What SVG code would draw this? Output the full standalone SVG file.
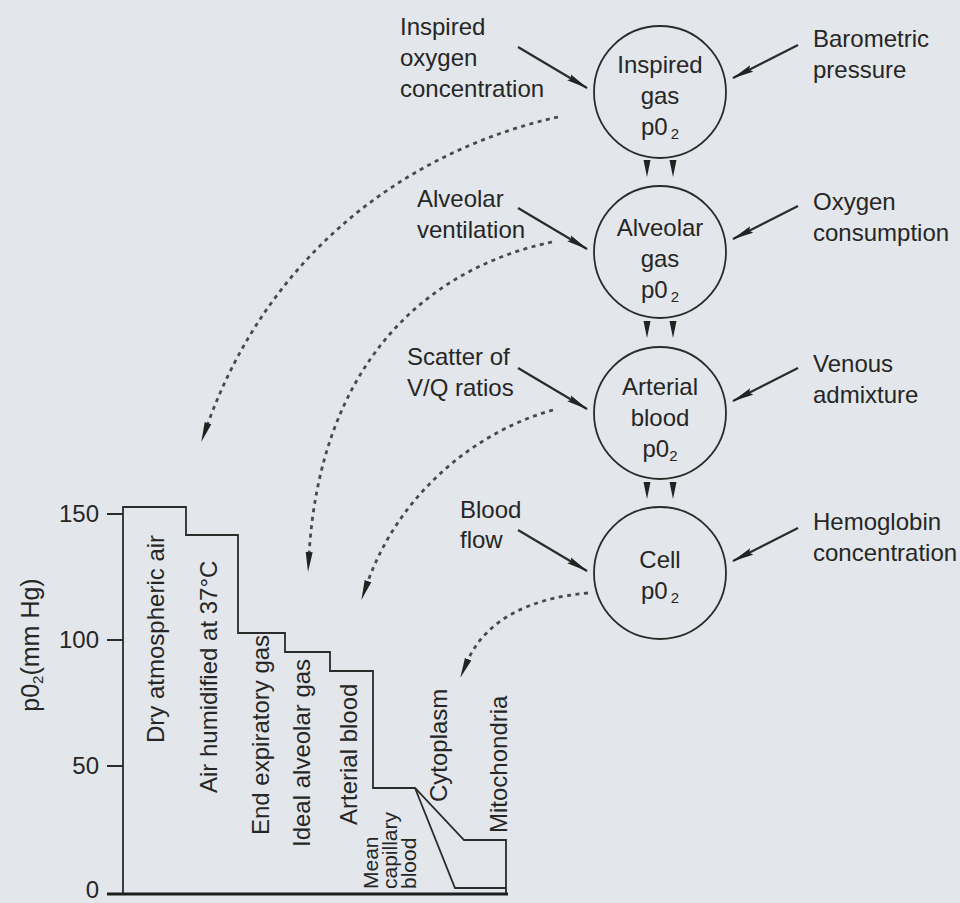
<svg xmlns="http://www.w3.org/2000/svg" width="960" height="903" viewBox="0 0 960 903">
<style>
.t{font-family:"Liberation Sans",Arial,Helvetica,sans-serif;font-size:24px;fill:#262626}
.s{font-size:21px}
.sub{font-size:15px}
.c{fill:none;stroke:#2b2b2b;stroke-width:1.8}
.a{fill:none;stroke:#2b2b2b;stroke-width:2.2;marker-end:url(#ah)}
.d{fill:none;stroke:#4a4a4a;stroke-width:2.8;stroke-dasharray:4 4.5;marker-end:url(#dh)}
.g{fill:none;stroke:#2b2b2b;stroke-width:1.8}
.tri{fill:#222}
</style>
<defs>
<marker id="ah" viewBox="0 0 22 8" refX="21" refY="4" markerWidth="22" markerHeight="8" markerUnits="userSpaceOnUse" orient="auto">
<path d="M0,0.5 L22,4 L0,7.5 L3,4 Z" fill="#222"/>
</marker>
<marker id="dh" viewBox="0 0 20 8" refX="3" refY="4" markerWidth="20" markerHeight="8" markerUnits="userSpaceOnUse" orient="auto">
<path d="M0,0.5 L20,4 L0,7.5 Z" fill="#222"/>
</marker>
</defs>
<rect x="0" y="0" width="960" height="903" fill="#e3e6ea"/>

<g id="node-inspired-gas">
<circle class="c" cx="660" cy="92" r="66"/>
<text class="t" x="660" y="73" text-anchor="middle">Inspired</text>
<text class="t" x="660" y="104" text-anchor="middle">gas</text>
<text class="t" x="660" y="135" text-anchor="middle">p0<tspan class="sub" dx="3" dy="4">2</tspan></text>
</g>
<g id="node-alveolar-gas">
<circle class="c" cx="660" cy="252" r="66"/>
<text class="t" x="660" y="236" text-anchor="middle">Alveolar</text>
<text class="t" x="660" y="267" text-anchor="middle">gas</text>
<text class="t" x="660" y="298" text-anchor="middle">p0<tspan class="sub" dx="3" dy="4">2</tspan></text>
</g>
<g id="node-arterial-blood">
<circle class="c" cx="660" cy="413" r="66"/>
<text class="t" x="660" y="395" text-anchor="middle">Arterial</text>
<text class="t" x="660" y="426" text-anchor="middle">blood</text>
<text class="t" x="660" y="457" text-anchor="middle">p0<tspan class="sub" dy="4">2</tspan></text>
</g>
<g id="node-cell">
<circle class="c" cx="660" cy="573" r="66"/>
<text class="t" x="660" y="568" text-anchor="middle">Cell</text>
<text class="t" x="660" y="599" text-anchor="middle">p0<tspan class="sub" dx="3" dy="4">2</tspan></text>
</g>

<g id="label-inspired-oxygen">
<text class="t" x="400" y="35">Inspired</text>
<text class="t" x="400" y="66">oxygen</text>
<text class="t" x="400" y="97">concentration</text>
</g>
<g id="label-alveolar-ventilation">
<text class="t" x="417" y="207">Alveolar</text>
<text class="t" x="417" y="238">ventilation</text>
</g>
<g id="label-scatter">
<text class="t" x="407" y="365">Scatter of</text>
<text class="t" x="407" y="396">V/Q ratios</text>
</g>
<g id="label-blood-flow">
<text class="t" x="460" y="518">Blood</text>
<text class="t" x="460" y="548">flow</text>
</g>
<g id="label-barometric">
<text class="t" x="813" y="47">Barometric</text>
<text class="t" x="813" y="78">pressure</text>
</g>
<g id="label-oxygen-consumption">
<text class="t" x="813" y="210">Oxygen</text>
<text class="t" x="813" y="241">consumption</text>
</g>
<g id="label-venous">
<text class="t" x="813" y="372">Venous</text>
<text class="t" x="813" y="403">admixture</text>
</g>
<g id="label-hemoglobin">
<text class="t" x="813" y="530">Hemoglobin</text>
<text class="t" x="813" y="561">concentration</text>
</g>

<g id="connectors">
<path class="a" d="M518,47 L587,88"/>
<path class="a" d="M518,208 L587,249"/>
<path class="a" d="M518,368 L587,409"/>
<path class="a" d="M518,530 L587,571"/>
<path class="a" d="M798,45 L733,78"/>
<path class="a" d="M798,206 L733,239"/>
<path class="a" d="M798,368 L733,401"/>
<path class="a" d="M798,528 L733,561"/>
<polygon class="tri" points="643.5,160 650.5,160 647,177"/>
<polygon class="tri" points="669.5,160 676.5,160 673,177"/>
<polygon class="tri" points="643.5,321 650.5,321 647,338"/>
<polygon class="tri" points="669.5,321 676.5,321 673,338"/>
<polygon class="tri" points="643.5,482 650.5,482 647,499"/>
<polygon class="tri" points="669.5,482 676.5,482 673,499"/>
<path class="d" d="M558,117 C410,150 270,250 207,426"/>
<path class="d" d="M552,242 C420,270 320,370 309,555"/>
<path class="d" d="M553,410 C480,430 400,490 367,584"/>
<path class="d" d="M588,593 C530,598 485,620 467,662"/>
</g>

<g id="chart">
<path class="g" d="M123,894 L123,507 L186,507 L186,535 L238,535 L238,633 L285,633 L285,652 L330,652 L330,671 L373,671 L373,788 L415,788 L464,840 L506,840 L506,894"/>
<path class="g" d="M415,788 L455,888 L506,888"/>
<path class="g" d="M107,514 L123,514 M107,640 L123,640 M107,766 L123,766"/>
<path fill="none" stroke="#1e1e1e" stroke-width="3" d="M107,894 L508,894"/>
<text class="t" x="99" y="522" text-anchor="end">150</text>
<text class="t" x="99" y="648" text-anchor="end">100</text>
<text class="t" x="99" y="774" text-anchor="end">50</text>
<text class="t" x="99" y="898" text-anchor="end">0</text>
<text class="t" style="font-size:25px" transform="translate(39,645) rotate(-90)" text-anchor="middle">p0<tspan class="sub" dy="4">2</tspan><tspan dy="-4">(mm Hg)</tspan></text>
<text class="t" transform="translate(164,743) rotate(-90)">Dry atmospheric air</text>
<text class="t" transform="translate(217,793) rotate(-90)">Air humidified at 37°C</text>
<text class="t" transform="translate(269,835) rotate(-90)">End expiratory gas</text>
<text class="t" transform="translate(310,847) rotate(-90)">Ideal alveolar gas</text>
<text class="t" transform="translate(357,825) rotate(-90)">Arterial blood</text>
<text class="t s" transform="translate(378,889) rotate(-90)">Mean</text>
<text class="t s" transform="translate(397,889) rotate(-90)">capillary</text>
<text class="t s" transform="translate(416,889) rotate(-90)">blood</text>
<text class="t" transform="translate(447,802) rotate(-90)">Cytoplasm</text>
<text class="t" transform="translate(507,833) rotate(-90)">Mitochondria</text>
</g>
</svg>
